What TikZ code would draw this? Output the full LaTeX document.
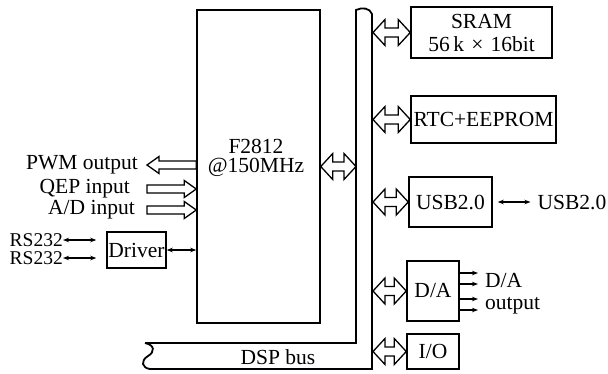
\documentclass[tikz,border=0pt]{standalone}
\usepackage{fontspec}
\setmainfont{Liberation Serif}
\usetikzlibrary{calc,arrows.meta}
\tikzset{
  box/.style={draw, line width=1.5pt, inner sep=0pt, align=center, font=\fontsize{21.5}{23}\selectfont},
  txt/.style={inner sep=0pt, font=\fontsize{21.5}{22}\selectfont, align=left},
  rstxt/.style={inner sep=0pt, font=\fontsize{19.5}{21}\selectfont, text height=13pt, text depth=0pt},
  hollow/.style={draw, line width=1.3pt, fill=white, line join=miter},
  buswire/.style={line width=1.8pt, line join=miter},
  thinarrow/.style={line width=1.1pt, {Stealth[length=6pt,width=4.5pt]}-{Stealth[length=6pt,width=4.5pt]}},
  outarrow/.style={line width=1.1pt, -{Stealth[length=6pt,width=4.5pt]}},
}
% hollow double arrow between two points at the same height
\newcommand\hdarrow[2]{%
  \path[hollow] let \p1=#1, \p2=#2 in
    (\x1,\y1) -- (\x1+12pt,\y1+13pt) -- (\x1+12pt,\y1+4.5pt) -- (\x2-12pt,\y1+4.5pt)
    -- (\x2-12pt,\y1+13pt) -- (\x2,\y1) -- (\x2-12pt,\y1-13pt) -- (\x2-12pt,\y1-4.5pt)
    -- (\x1+12pt,\y1-4.5pt) -- (\x1+12pt,\y1-13pt) -- cycle;}
% hollow single arrow, tip at #1 (left), tail at #2 (right)
\newcommand\hsarrowL[2]{%
  \path[hollow] let \p1=#1, \p2=#2 in
    (\x1,\y1) -- (\x1+12pt,\y1+8.5pt) -- (\x1+12pt,\y1+4pt) -- (\x2,\y1+4pt)
    -- (\x2,\y1-4pt) -- (\x1+12pt,\y1-4pt) -- (\x1+12pt,\y1-8.5pt) -- cycle;}
% hollow single arrow, tail at #1 (left), tip at #2 (right)
\newcommand\hsarrowR[2]{%
  \path[hollow] let \p1=#1, \p2=#2 in
    (\x2,\y1) -- (\x2-12pt,\y1+8.5pt) -- (\x2-12pt,\y1+4pt) -- (\x1,\y1+4pt)
    -- (\x1,\y1-4pt) -- (\x2-12pt,\y1-4pt) -- (\x2-12pt,\y1-8.5pt) -- cycle;}
\begin{document}
\begin{tikzpicture}[x=1pt,y=-1pt]
\useasboundingbox (0,0) rectangle (608,373);

% bus outline
\draw[buswire] (145,343) -- (356,343) -- (356,10)
  .. controls (362,7) and (370,8) .. (372,14) -- (372,369) -- (150,369)
  .. controls (142,368) and (140,361) .. (148,356)
  .. controls (155,352) and (155,345) .. (145,343);
\coordinate (busL) at (356,0);
\coordinate (busR) at (373,0);
\node[txt] (busname) at (278,357) {DSP bus};

% CPU
\node[box, minimum width=123pt, minimum height=313pt] (cpu) at (258.5,166.5) {};
\node[txt, align=center, font=\fontsize{21.5}{19.5}\selectfont] (cputxt) at (256,158) {F2812\\@150MHz};

% peripheral boxes
\node[box, minimum width=141pt, minimum height=51pt] (sram) at (481.5,32.5) {SRAM\\56\,k\,\,×\,\,16bit};
\node[box, minimum width=145pt, minimum height=47pt] (rtc) at (483.5,119.5) {RTC+EEPROM};
\node[box, minimum width=83pt, minimum height=50pt] (usb) at (450.5,202) {USB2.0};
\node[box, minimum width=52pt, minimum height=60pt] (da) at (433,291) {D/A};
\node[box, minimum width=52pt, minimum height=35pt] (io) at (433,351.5) {I/O};
\node[box, minimum width=59pt, minimum height=36pt] (drv) at (136.5,250) {Driver};

% bus connections
\hdarrow{(cpu.east)}{(busL|-cpu.east)}
\hdarrow{(busR|-sram.west)}{(sram.west)}
\hdarrow{(busR|-rtc.west)}{(rtc.west)}
\hdarrow{(busR|-usb.west)}{(usb.west)}
\hdarrow{(busR|-da.west)}{(da.west)}
\hdarrow{(busR|-io.west)}{(io.west)}

% left side signals
\node[txt, anchor=east] (pwm) at (138,165) {PWM output};
\node[txt, anchor=east] (qep) at (130,189) {QEP input};
\node[txt, anchor=east] (adc) at (135,210) {A/D input};
\coordinate (lin) at (147,0);
\hsarrowL{(lin|-pwm.east)}{(cpu.west|-pwm.east)}
\hsarrowR{(lin|-qep.east)}{(cpu.west|-qep.east)}
\hsarrowR{(lin|-adc.east)}{(cpu.west|-adc.east)}

% RS232 and driver
\node[rstxt, anchor=east] (rs1) at (63,240) {RS232};
\node[rstxt, anchor=east] (rs2) at (63,258) {RS232};
\draw[thinarrow] (rs1.east) -- ($(drv.west|-rs1.east)+(-10,0)$);
\draw[thinarrow] (rs2.east) -- ($(drv.west|-rs2.east)+(-10,0)$);
\draw[thinarrow] (drv.east) -- (cpu.west|-drv.east);

% USB external
\node[txt] (usbo) at (572,202) {USB2.0};
\draw[thinarrow] ($(usb.east)+(5,0)$) -- ($(usbo.west)+(-7,0)$);

% D/A outputs
\coordinate (daR) at (478,0);
\foreach \yy in {273,284,299,310}{
  \coordinate (t) at (0,\yy);
  \draw[outarrow] (da.east|-t) -- (daR|-t);
}
\node[txt, anchor=west] (dao) at (485,294) {D/A\\output};
\end{tikzpicture}
\end{document}
